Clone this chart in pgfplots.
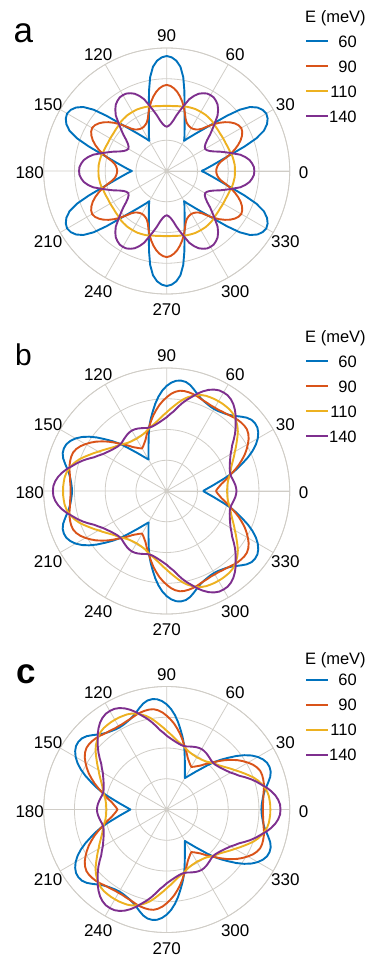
\documentclass[border=0pt]{standalone}
\usepackage{fontspec}
\setmainfont{Liberation Sans}
\usepackage{pgfplots}
\pgfplotsset{compat=1.18}
\usepackage{pgfplotstable}
\usepgfplotslibrary{polar}

\definecolor{cB}{RGB}{0,114,189}
\definecolor{cO}{RGB}{217,83,25}
\definecolor{cY}{RGB}{237,177,32}
\definecolor{cP}{RGB}{126,47,142}
\definecolor{gridc}{RGB}{208,205,199}

% panel a: angle, E=60, 90, 110, 140 meV
\pgfplotstableread{
ang b o y p
0 1.13 1.61 2.22 2.85
2.5 1.25 1.62 2.22 2.84
5 1.37 1.65 2.22 2.79
7.5 1.52 1.70 2.21 2.72
10 1.70 1.80 2.20 2.60
12.5 1.93 1.97 2.19 2.45
15 2.24 2.15 2.17 2.22
17.5 2.66 2.32 2.15 2.02
20 3.10 2.47 2.14 1.84
22.5 3.42 2.60 2.13 1.66
25 3.60 2.70 2.12 1.54
27.5 3.70 2.77 2.12 1.47
30 3.74 2.80 2.12 1.44
32.5 3.70 2.77 2.12 1.47
35 3.60 2.70 2.12 1.54
37.5 3.42 2.60 2.13 1.66
40 3.10 2.47 2.14 1.84
42.5 2.66 2.32 2.15 2.02
45 2.24 2.15 2.17 2.22
47.5 1.93 1.97 2.19 2.45
50 1.70 1.80 2.20 2.60
52.5 1.52 1.70 2.21 2.72
55 1.37 1.65 2.22 2.79
57.5 1.25 1.62 2.22 2.84
60 1.13 1.61 2.22 2.85
62.5 1.25 1.62 2.22 2.84
65 1.37 1.65 2.22 2.79
67.5 1.52 1.70 2.21 2.72
70 1.70 1.80 2.20 2.60
72.5 1.93 1.97 2.19 2.45
75 2.24 2.15 2.17 2.22
77.5 2.66 2.32 2.15 2.02
80 3.10 2.47 2.14 1.84
82.5 3.42 2.60 2.13 1.66
85 3.60 2.70 2.12 1.54
87.5 3.70 2.77 2.12 1.47
90 3.74 2.80 2.12 1.44
92.5 3.70 2.77 2.12 1.47
95 3.60 2.70 2.12 1.54
97.5 3.42 2.60 2.13 1.66
100 3.10 2.47 2.14 1.84
102.5 2.66 2.32 2.15 2.02
105 2.24 2.15 2.17 2.22
107.5 1.93 1.97 2.19 2.45
110 1.70 1.80 2.20 2.60
112.5 1.52 1.70 2.21 2.72
115 1.37 1.65 2.22 2.79
117.5 1.25 1.62 2.22 2.84
120 1.13 1.61 2.22 2.85
122.5 1.25 1.62 2.22 2.84
125 1.37 1.65 2.22 2.79
127.5 1.52 1.70 2.21 2.72
130 1.70 1.80 2.20 2.60
132.5 1.93 1.97 2.19 2.45
135 2.24 2.15 2.17 2.22
137.5 2.66 2.32 2.15 2.02
140 3.10 2.47 2.14 1.84
142.5 3.42 2.60 2.13 1.66
145 3.60 2.70 2.12 1.54
147.5 3.70 2.77 2.12 1.47
150 3.74 2.80 2.12 1.44
152.5 3.70 2.77 2.12 1.47
155 3.60 2.70 2.12 1.54
157.5 3.42 2.60 2.13 1.66
160 3.10 2.47 2.14 1.84
162.5 2.66 2.32 2.15 2.02
165 2.24 2.15 2.17 2.22
167.5 1.93 1.97 2.19 2.45
170 1.70 1.80 2.20 2.60
172.5 1.52 1.70 2.21 2.72
175 1.37 1.65 2.22 2.79
177.5 1.25 1.62 2.22 2.84
180 1.13 1.61 2.22 2.85
182.5 1.25 1.62 2.22 2.84
185 1.37 1.65 2.22 2.79
187.5 1.52 1.70 2.21 2.72
190 1.70 1.80 2.20 2.60
192.5 1.93 1.97 2.19 2.45
195 2.24 2.15 2.17 2.22
197.5 2.66 2.32 2.15 2.02
200 3.10 2.47 2.14 1.84
202.5 3.42 2.60 2.13 1.66
205 3.60 2.70 2.12 1.54
207.5 3.70 2.77 2.12 1.47
210 3.74 2.80 2.12 1.44
212.5 3.70 2.77 2.12 1.47
215 3.60 2.70 2.12 1.54
217.5 3.42 2.60 2.13 1.66
220 3.10 2.47 2.14 1.84
222.5 2.66 2.32 2.15 2.02
225 2.24 2.15 2.17 2.22
227.5 1.93 1.97 2.19 2.45
230 1.70 1.80 2.20 2.60
232.5 1.52 1.70 2.21 2.72
235 1.37 1.65 2.22 2.79
237.5 1.25 1.62 2.22 2.84
240 1.13 1.61 2.22 2.85
242.5 1.25 1.62 2.22 2.84
245 1.37 1.65 2.22 2.79
247.5 1.52 1.70 2.21 2.72
250 1.70 1.80 2.20 2.60
252.5 1.93 1.97 2.19 2.45
255 2.24 2.15 2.17 2.22
257.5 2.66 2.32 2.15 2.02
260 3.10 2.47 2.14 1.84
262.5 3.42 2.60 2.13 1.66
265 3.60 2.70 2.12 1.54
267.5 3.70 2.77 2.12 1.47
270 3.74 2.80 2.12 1.44
272.5 3.70 2.77 2.12 1.47
275 3.60 2.70 2.12 1.54
277.5 3.42 2.60 2.13 1.66
280 3.10 2.47 2.14 1.84
282.5 2.66 2.32 2.15 2.02
285 2.24 2.15 2.17 2.22
287.5 1.93 1.97 2.19 2.45
290 1.70 1.80 2.20 2.60
292.5 1.52 1.70 2.21 2.72
295 1.37 1.65 2.22 2.79
297.5 1.25 1.62 2.22 2.84
300 1.13 1.61 2.22 2.85
302.5 1.25 1.62 2.22 2.84
305 1.37 1.65 2.22 2.79
307.5 1.52 1.70 2.21 2.72
310 1.70 1.80 2.20 2.60
312.5 1.93 1.97 2.19 2.45
315 2.24 2.15 2.17 2.22
317.5 2.66 2.32 2.15 2.02
320 3.10 2.47 2.14 1.84
322.5 3.42 2.60 2.13 1.66
325 3.60 2.70 2.12 1.54
327.5 3.70 2.77 2.12 1.47
330 3.74 2.80 2.12 1.44
332.5 3.70 2.77 2.12 1.47
335 3.60 2.70 2.12 1.54
337.5 3.42 2.60 2.13 1.66
340 3.10 2.47 2.14 1.84
342.5 2.66 2.32 2.15 2.02
345 2.24 2.15 2.17 2.22
347.5 1.93 1.97 2.19 2.45
350 1.70 1.80 2.20 2.60
352.5 1.52 1.70 2.21 2.72
355 1.37 1.65 2.22 2.79
357.5 1.25 1.62 2.22 2.84
360 1.13 1.61 2.22 2.85
}\tabA

% panel b
\pgfplotstableread{
ang b o y p
0 1.18 1.60 1.96 2.27
2.5 1.28 1.65 1.97 2.26
5 1.40 1.72 1.98 2.24
7.5 1.55 1.80 2.00 2.21
10 1.72 1.92 2.03 2.18
12.5 1.94 2.05 2.08 2.15
15 2.18 2.18 2.13 2.14
17.5 2.40 2.34 2.18 2.15
20 2.62 2.50 2.23 2.18
22.5 2.86 2.65 2.30 2.22
25 3.08 2.80 2.38 2.27
27.5 3.27 2.93 2.47 2.33
30 3.42 3.05 2.56 2.40
32.5 3.53 3.16 2.67 2.50
35 3.60 3.24 2.78 2.60
37.5 3.62 3.29 2.90 2.75
40 3.60 3.30 3.02 2.90
42.5 3.53 3.29 3.12 3.04
45 3.42 3.27 3.20 3.17
47.5 3.31 3.24 3.27 3.32
50 3.22 3.20 3.32 3.45
52.5 3.16 3.17 3.35 3.56
55 3.12 3.15 3.36 3.64
57.5 3.09 3.13 3.37 3.69
60 3.08 3.13 3.37 3.70
62.5 3.09 3.13 3.37 3.69
65 3.12 3.15 3.36 3.64
67.5 3.16 3.17 3.35 3.56
70 3.22 3.20 3.32 3.45
72.5 3.31 3.24 3.27 3.32
75 3.42 3.27 3.20 3.17
77.5 3.53 3.29 3.12 3.04
80 3.60 3.30 3.02 2.90
82.5 3.62 3.29 2.90 2.75
85 3.60 3.24 2.78 2.60
87.5 3.53 3.16 2.67 2.50
90 3.42 3.05 2.56 2.40
92.5 3.27 2.93 2.47 2.33
95 3.08 2.80 2.38 2.27
97.5 2.86 2.65 2.30 2.22
100 2.62 2.50 2.23 2.18
102.5 2.40 2.34 2.18 2.15
105 2.18 2.18 2.13 2.14
107.5 1.94 2.05 2.08 2.15
110 1.72 1.92 2.03 2.18
112.5 1.55 1.80 2.00 2.21
115 1.40 1.72 1.98 2.24
117.5 1.28 1.65 1.97 2.26
120 1.18 1.60 1.96 2.27
122.5 1.28 1.65 1.97 2.26
125 1.40 1.72 1.98 2.24
127.5 1.55 1.80 2.00 2.21
130 1.72 1.92 2.03 2.18
132.5 1.94 2.05 2.08 2.15
135 2.18 2.18 2.13 2.14
137.5 2.40 2.34 2.18 2.15
140 2.62 2.50 2.23 2.18
142.5 2.86 2.65 2.30 2.22
145 3.08 2.80 2.38 2.27
147.5 3.27 2.93 2.47 2.33
150 3.42 3.05 2.56 2.40
152.5 3.53 3.16 2.67 2.50
155 3.60 3.24 2.78 2.60
157.5 3.62 3.29 2.90 2.75
160 3.60 3.30 3.02 2.90
162.5 3.53 3.29 3.12 3.04
165 3.42 3.27 3.20 3.17
167.5 3.31 3.24 3.27 3.32
170 3.22 3.20 3.32 3.45
172.5 3.16 3.17 3.35 3.56
175 3.12 3.15 3.36 3.64
177.5 3.09 3.13 3.37 3.69
180 3.08 3.13 3.37 3.70
182.5 3.09 3.13 3.37 3.69
185 3.12 3.15 3.36 3.64
187.5 3.16 3.17 3.35 3.56
190 3.22 3.20 3.32 3.45
192.5 3.31 3.24 3.27 3.32
195 3.42 3.27 3.20 3.17
197.5 3.53 3.29 3.12 3.04
200 3.60 3.30 3.02 2.90
202.5 3.62 3.29 2.90 2.75
205 3.60 3.24 2.78 2.60
207.5 3.53 3.16 2.67 2.50
210 3.42 3.05 2.56 2.40
212.5 3.27 2.93 2.47 2.33
215 3.08 2.80 2.38 2.27
217.5 2.86 2.65 2.30 2.22
220 2.62 2.50 2.23 2.18
222.5 2.40 2.34 2.18 2.15
225 2.18 2.18 2.13 2.14
227.5 1.94 2.05 2.08 2.15
230 1.72 1.92 2.03 2.18
232.5 1.55 1.80 2.00 2.21
235 1.40 1.72 1.98 2.24
237.5 1.28 1.65 1.97 2.26
240 1.18 1.60 1.96 2.27
242.5 1.28 1.65 1.97 2.26
245 1.40 1.72 1.98 2.24
247.5 1.55 1.80 2.00 2.21
250 1.72 1.92 2.03 2.18
252.5 1.94 2.05 2.08 2.15
255 2.18 2.18 2.13 2.14
257.5 2.40 2.34 2.18 2.15
260 2.62 2.50 2.23 2.18
262.5 2.86 2.65 2.30 2.22
265 3.08 2.80 2.38 2.27
267.5 3.27 2.93 2.47 2.33
270 3.42 3.05 2.56 2.40
272.5 3.53 3.16 2.67 2.50
275 3.60 3.24 2.78 2.60
277.5 3.62 3.29 2.90 2.75
280 3.60 3.30 3.02 2.90
282.5 3.53 3.29 3.12 3.04
285 3.42 3.27 3.20 3.17
287.5 3.31 3.24 3.27 3.32
290 3.22 3.20 3.32 3.45
292.5 3.16 3.17 3.35 3.56
295 3.12 3.15 3.36 3.64
297.5 3.09 3.13 3.37 3.69
300 3.08 3.13 3.37 3.70
302.5 3.09 3.13 3.37 3.69
305 3.12 3.15 3.36 3.64
307.5 3.16 3.17 3.35 3.56
310 3.22 3.20 3.32 3.45
312.5 3.31 3.24 3.27 3.32
315 3.42 3.27 3.20 3.17
317.5 3.53 3.29 3.12 3.04
320 3.60 3.30 3.02 2.90
322.5 3.62 3.29 2.90 2.75
325 3.60 3.24 2.78 2.60
327.5 3.53 3.16 2.67 2.50
330 3.42 3.05 2.56 2.40
332.5 3.27 2.93 2.47 2.33
335 3.08 2.80 2.38 2.27
337.5 2.86 2.65 2.30 2.22
340 2.62 2.50 2.23 2.18
342.5 2.40 2.34 2.18 2.15
345 2.18 2.18 2.13 2.14
347.5 1.94 2.05 2.08 2.15
350 1.72 1.92 2.03 2.18
352.5 1.55 1.80 2.00 2.21
355 1.40 1.72 1.98 2.24
357.5 1.28 1.65 1.97 2.26
360 1.18 1.60 1.96 2.27
}\tabB

% panel c
\pgfplotstableread{
ang b o y p
0 3.08 3.13 3.37 3.70
2.5 3.09 3.13 3.37 3.69
5 3.12 3.15 3.36 3.64
7.5 3.16 3.17 3.35 3.56
10 3.22 3.20 3.32 3.45
12.5 3.31 3.24 3.27 3.32
15 3.42 3.27 3.20 3.17
17.5 3.53 3.29 3.12 3.04
20 3.60 3.30 3.02 2.90
22.5 3.62 3.29 2.90 2.75
25 3.60 3.24 2.78 2.60
27.5 3.53 3.16 2.67 2.50
30 3.42 3.05 2.56 2.40
32.5 3.27 2.93 2.47 2.33
35 3.08 2.80 2.38 2.27
37.5 2.86 2.65 2.30 2.22
40 2.62 2.50 2.23 2.18
42.5 2.40 2.34 2.18 2.15
45 2.18 2.18 2.13 2.14
47.5 1.94 2.05 2.08 2.15
50 1.72 1.92 2.03 2.18
52.5 1.55 1.80 2.00 2.21
55 1.40 1.72 1.98 2.24
57.5 1.28 1.65 1.97 2.26
60 1.18 1.60 1.96 2.27
62.5 1.28 1.65 1.97 2.26
65 1.40 1.72 1.98 2.24
67.5 1.55 1.80 2.00 2.21
70 1.72 1.92 2.03 2.18
72.5 1.94 2.05 2.08 2.15
75 2.18 2.18 2.13 2.14
77.5 2.40 2.34 2.18 2.15
80 2.62 2.50 2.23 2.18
82.5 2.86 2.65 2.30 2.22
85 3.08 2.80 2.38 2.27
87.5 3.27 2.93 2.47 2.33
90 3.42 3.05 2.56 2.40
92.5 3.53 3.16 2.67 2.50
95 3.60 3.24 2.78 2.60
97.5 3.62 3.29 2.90 2.75
100 3.60 3.30 3.02 2.90
102.5 3.53 3.29 3.12 3.04
105 3.42 3.27 3.20 3.17
107.5 3.31 3.24 3.27 3.32
110 3.22 3.20 3.32 3.45
112.5 3.16 3.17 3.35 3.56
115 3.12 3.15 3.36 3.64
117.5 3.09 3.13 3.37 3.69
120 3.08 3.13 3.37 3.70
122.5 3.09 3.13 3.37 3.69
125 3.12 3.15 3.36 3.64
127.5 3.16 3.17 3.35 3.56
130 3.22 3.20 3.32 3.45
132.5 3.31 3.24 3.27 3.32
135 3.42 3.27 3.20 3.17
137.5 3.53 3.29 3.12 3.04
140 3.60 3.30 3.02 2.90
142.5 3.62 3.29 2.90 2.75
145 3.60 3.24 2.78 2.60
147.5 3.53 3.16 2.67 2.50
150 3.42 3.05 2.56 2.40
152.5 3.27 2.93 2.47 2.33
155 3.08 2.80 2.38 2.27
157.5 2.86 2.65 2.30 2.22
160 2.62 2.50 2.23 2.18
162.5 2.40 2.34 2.18 2.15
165 2.18 2.18 2.13 2.14
167.5 1.94 2.05 2.08 2.15
170 1.72 1.92 2.03 2.18
172.5 1.55 1.80 2.00 2.21
175 1.40 1.72 1.98 2.24
177.5 1.28 1.65 1.97 2.26
180 1.18 1.60 1.96 2.27
182.5 1.28 1.65 1.97 2.26
185 1.40 1.72 1.98 2.24
187.5 1.55 1.80 2.00 2.21
190 1.72 1.92 2.03 2.18
192.5 1.94 2.05 2.08 2.15
195 2.18 2.18 2.13 2.14
197.5 2.40 2.34 2.18 2.15
200 2.62 2.50 2.23 2.18
202.5 2.86 2.65 2.30 2.22
205 3.08 2.80 2.38 2.27
207.5 3.27 2.93 2.47 2.33
210 3.42 3.05 2.56 2.40
212.5 3.53 3.16 2.67 2.50
215 3.60 3.24 2.78 2.60
217.5 3.62 3.29 2.90 2.75
220 3.60 3.30 3.02 2.90
222.5 3.53 3.29 3.12 3.04
225 3.42 3.27 3.20 3.17
227.5 3.31 3.24 3.27 3.32
230 3.22 3.20 3.32 3.45
232.5 3.16 3.17 3.35 3.56
235 3.12 3.15 3.36 3.64
237.5 3.09 3.13 3.37 3.69
240 3.08 3.13 3.37 3.70
242.5 3.09 3.13 3.37 3.69
245 3.12 3.15 3.36 3.64
247.5 3.16 3.17 3.35 3.56
250 3.22 3.20 3.32 3.45
252.5 3.31 3.24 3.27 3.32
255 3.42 3.27 3.20 3.17
257.5 3.53 3.29 3.12 3.04
260 3.60 3.30 3.02 2.90
262.5 3.62 3.29 2.90 2.75
265 3.60 3.24 2.78 2.60
267.5 3.53 3.16 2.67 2.50
270 3.42 3.05 2.56 2.40
272.5 3.27 2.93 2.47 2.33
275 3.08 2.80 2.38 2.27
277.5 2.86 2.65 2.30 2.22
280 2.62 2.50 2.23 2.18
282.5 2.40 2.34 2.18 2.15
285 2.18 2.18 2.13 2.14
287.5 1.94 2.05 2.08 2.15
290 1.72 1.92 2.03 2.18
292.5 1.55 1.80 2.00 2.21
295 1.40 1.72 1.98 2.24
297.5 1.28 1.65 1.97 2.26
300 1.18 1.60 1.96 2.27
302.5 1.28 1.65 1.97 2.26
305 1.40 1.72 1.98 2.24
307.5 1.55 1.80 2.00 2.21
310 1.72 1.92 2.03 2.18
312.5 1.94 2.05 2.08 2.15
315 2.18 2.18 2.13 2.14
317.5 2.40 2.34 2.18 2.15
320 2.62 2.50 2.23 2.18
322.5 2.86 2.65 2.30 2.22
325 3.08 2.80 2.38 2.27
327.5 3.27 2.93 2.47 2.33
330 3.42 3.05 2.56 2.40
332.5 3.53 3.16 2.67 2.50
335 3.60 3.24 2.78 2.60
337.5 3.62 3.29 2.90 2.75
340 3.60 3.30 3.02 2.90
342.5 3.53 3.29 3.12 3.04
345 3.42 3.27 3.20 3.17
347.5 3.31 3.24 3.27 3.32
350 3.22 3.20 3.32 3.45
352.5 3.16 3.17 3.35 3.56
355 3.12 3.15 3.36 3.64
357.5 3.09 3.13 3.37 3.69
360 3.08 3.13 3.37 3.70
}\tabC

\pgfplotsset{pp/.style={
  width=246pt, height=246pt, scale only axis,
  xmin=0, xmax=360, ymin=0, ymax=4,
  xtick={0,30,...,330},
  ytick={1,2,3,4}, yticklabels={},
  grid=major,
  major grid style={draw=gridc, line width=0.8pt},
  axis line style={draw=gridc, line width=0.8pt},
  major tick length=0pt,
  tick style={draw=none},
  xticklabel style={font=\fontsize{17}{17}\selectfont, anchor=center, inner sep=0pt,
    xshift={14*cos(\tick)}, yshift={14*sin(\tick)-2}},
  /pgf/number format/assume math mode=true,
  clip=false,
  every axis plot/.append style={line width=1.9pt, line join=round},
  legend cell align=right,
  legend style={draw=none, fill=none, inner sep=0pt,
    font=\fontsize{16.5}{17}\selectfont,
    at={(axis description cs:1.062,1.052)}, anchor=north west,
    row sep=13pt,
    nodes={inner sep=0pt, text height=12pt, text depth=0pt},
    /tikz/every even column/.append style={column sep=7pt}},
  legend image code/.code={\draw[##1, line width=2pt] (0pt,0pt) -- (22pt,0pt);},
}}

\begin{document}
\begin{tikzpicture}
\useasboundingbox (0pt,0pt) rectangle (370pt,-957pt);

\begin{polaraxis}[pp, at={(166.7pt,-171pt)}, anchor=center]
\addplot[cB] table[x=ang,y=b]{\tabA};
\addplot[cO] table[x=ang,y=o]{\tabA};
\addplot[cY] table[x=ang,y=y]{\tabA};
\addplot[cP] table[x=ang,y=p]{\tabA};
\legend{60,90,110,140}
\end{polaraxis}

\begin{polaraxis}[pp, at={(166.7pt,-491pt)}, anchor=center]
\addplot[cB] table[x=ang,y=b]{\tabB};
\addplot[cO] table[x=ang,y=o]{\tabB};
\addplot[cY] table[x=ang,y=y]{\tabB};
\addplot[cP] table[x=ang,y=p]{\tabB};
\legend{60,90,110,140}
\end{polaraxis}

\begin{polaraxis}[pp, at={(166.7pt,-809.5pt)}, anchor=center]
\addplot[cB] table[x=ang,y=b]{\tabC};
\addplot[cO] table[x=ang,y=o]{\tabC};
\addplot[cY] table[x=ang,y=y]{\tabC};
\addplot[cP] table[x=ang,y=p]{\tabC};
\legend{60,90,110,140}
\end{polaraxis}

\node[anchor=base west, inner sep=0pt, font=\fontsize{16.5}{17}\selectfont] at (305pt,-22.7pt) {E (meV)};
\node[anchor=base west, inner sep=0pt, font=\fontsize{16.5}{17}\selectfont] at (305pt,-342pt) {E (meV)};
\node[anchor=base west, inner sep=0pt, font=\fontsize{16.5}{17}\selectfont] at (305pt,-664pt) {E (meV)};

\node[anchor=base west, inner sep=0pt, font=\fontsize{35}{36}\selectfont] at (13.3pt,-43pt) {a};
\node[anchor=base west, inner sep=0pt, font=\fontsize{30}{32}\selectfont] at (15pt,-365pt) {b};
\node[anchor=base west, inner sep=0pt, font=\fontsize{35}{36}\selectfont\bfseries] at (16.7pt,-683pt) {c};
\end{tikzpicture}
\end{document}
